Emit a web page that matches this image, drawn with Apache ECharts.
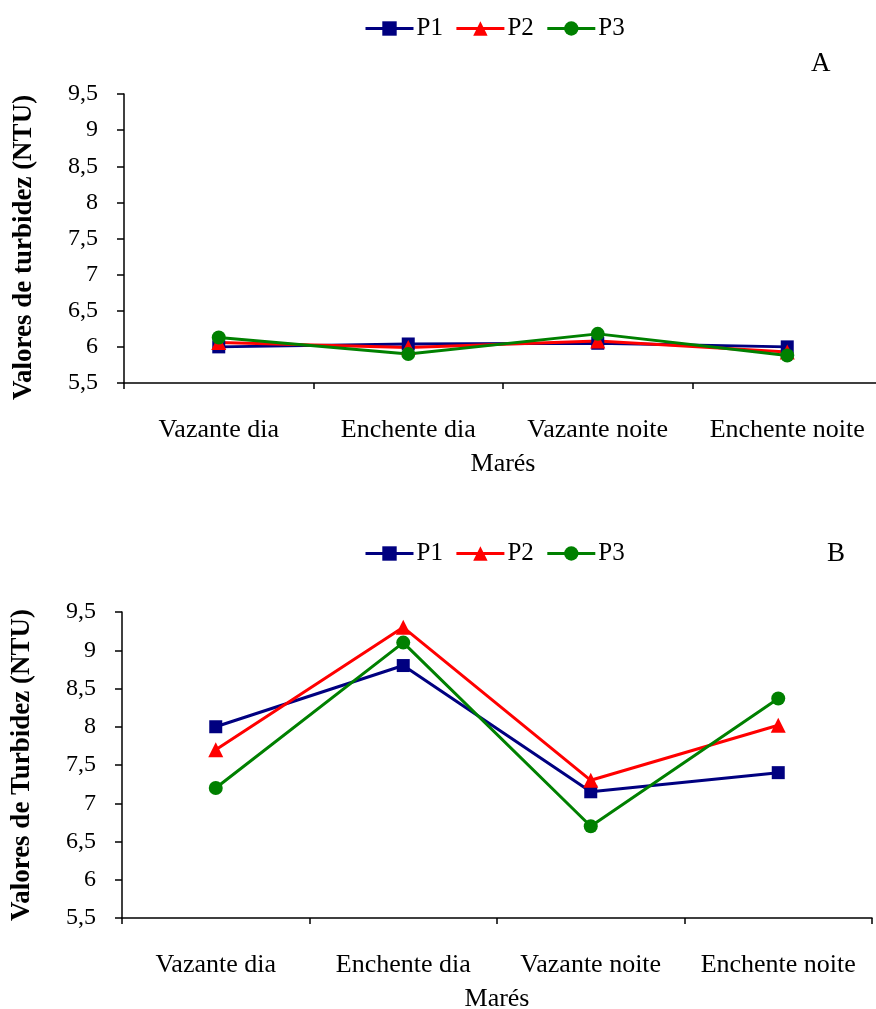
<!DOCTYPE html>
<html>
<head>
<meta charset="utf-8">
<script src="https://cdn.jsdelivr.net/npm/echarts@6/dist/echarts.min.js"></script>
<style>
html,body{margin:0;padding:0;background:#fff;}
#c{width:876px;height:1009px;}
</style>
</head>
<body>
<div id="c"></div>
<script>
// ---- data ----
var categories = ['Vazante dia', 'Enchente dia', 'Vazante noite', 'Enchente noite'];
var seriesNames = ['P1', 'P2', 'P3'];
var aP1 = [6.0, 6.04, 6.05, 6.0];
var aP2 = [6.06, 5.99, 6.08, 5.93];
var aP3 = [6.13, 5.9, 6.18, 5.88];
var bP1 = [8.0, 8.8, 7.15, 7.4];
var bP2 = [7.7, 9.3, 7.3, 8.02];
var bP3 = [7.2, 9.1, 6.7, 8.37];
var yMin = 5.5, yMax = 9.5, yStep = 0.5;
var yNameA = 'Valores de turbidez (NTU)';
var yNameB = 'Valores de Turbidez (NTU)';
var xName = 'Marés';
var panelLabels = ['A', 'B'];

// ---- styles ----
var FONT = 'Liberation Serif';
var colors = ['#000080', '#FF0000', '#008000'];
var symbols = ['rect', 'triangle', 'circle'];
var symSizes = [13, 15, 14];

function makeSeries(data, idx, axisIdx) {
  return {
    name: seriesNames[idx],
    type: 'line',
    xAxisIndex: axisIdx,
    yAxisIndex: axisIdx,
    data: data,
    symbol: symbols[idx],
    symbolSize: symSizes[idx],
    showAllSymbol: true,
    lineStyle: { color: colors[idx], width: 3 },
    itemStyle: { color: colors[idx] },
    emphasis: { disabled: true },
    animation: false
  };
}

function xAxisDef(gridIndex) {
  return {
    type: 'category',
    gridIndex: gridIndex,
    data: categories,
    boundaryGap: true,
    name: xName,
    nameLocation: 'middle',
    nameGap: 68,
    nameTextStyle: { fontFamily: FONT, fontSize: 26, color: '#000' },
    axisLine: { lineStyle: { color: '#000', width: 1.5 } },
    axisTick: { show: true, length: 6, alignWithLabel: false, lineStyle: { color: '#000', width: 1.5 } },
    axisLabel: { fontFamily: FONT, fontSize: 26, color: '#000', margin: 34, interval: 0 },
    splitLine: { show: false }
  };
}

function yAxisDef(gridIndex, name, pad) {
  return {
    type: 'value',
    gridIndex: gridIndex,
    min: yMin,
    max: yMax,
    interval: yStep,
    name: name,
    nameLocation: 'middle',
    nameGap: 86,
    nameRotate: 90,
    nameTextStyle: { fontFamily: FONT, fontSize: 27, fontWeight: 'bold', color: '#000', padding: pad },
    axisLine: { show: true, lineStyle: { color: '#000', width: 1.5 } },
    axisTick: { show: true, inside: false, length: 7, lineStyle: { color: '#000', width: 1.5 } },
    axisLabel: {
      fontFamily: FONT, fontSize: 24, color: '#000', margin: 26,
      formatter: function (v) { return String(v).replace('.', ','); }
    },
    splitLine: { show: false }
  };
}

function legendDef(top) {
  return {
    top: top,
    left: 364,
    padding: 0,
    itemWidth: 48,
    itemHeight: 18,
    itemGap: 12,
    lineStyle: { width: 3 },
    textStyle: { fontFamily: FONT, fontSize: 25, color: '#000', padding: [0, 0, 0, -2] },
    data: seriesNames,
    selectedMode: false
  };
}

var chart = echarts.init(document.getElementById('c'), null, { renderer: 'canvas' });
chart.setOption({
  backgroundColor: '#fff',
  animation: false,
  color: colors,
  legend: [legendDef(16), legendDef(541)],
  title: [
    { text: panelLabels[0], left: 806, top: 45, textStyle: { fontFamily: FONT, fontSize: 27, fontWeight: 'normal', color: '#000' } },
    { text: panelLabels[1], left: 822, top: 535, textStyle: { fontFamily: FONT, fontSize: 27, fontWeight: 'normal', color: '#000' } }
  ],
  grid: [
    { left: 124, top: 94, width: 758, height: 289, containLabel: false, outerBoundsMode: 'none' },
    { left: 122, top: 612, width: 750, height: 306, containLabel: false, outerBoundsMode: 'none' }
  ],
  xAxis: [xAxisDef(0), xAxisDef(1)],
  yAxis: [yAxisDef(0, yNameA, [0, 18, 0, 0]), yAxisDef(1, yNameB, [0, 0, 0, 0])],
  series: [
    makeSeries(aP1, 0, 0), makeSeries(aP2, 1, 0), makeSeries(aP3, 2, 0),
    makeSeries(bP1, 0, 1), makeSeries(bP2, 1, 1), makeSeries(bP3, 2, 1)
  ]
});
</script>
</body>
</html>
